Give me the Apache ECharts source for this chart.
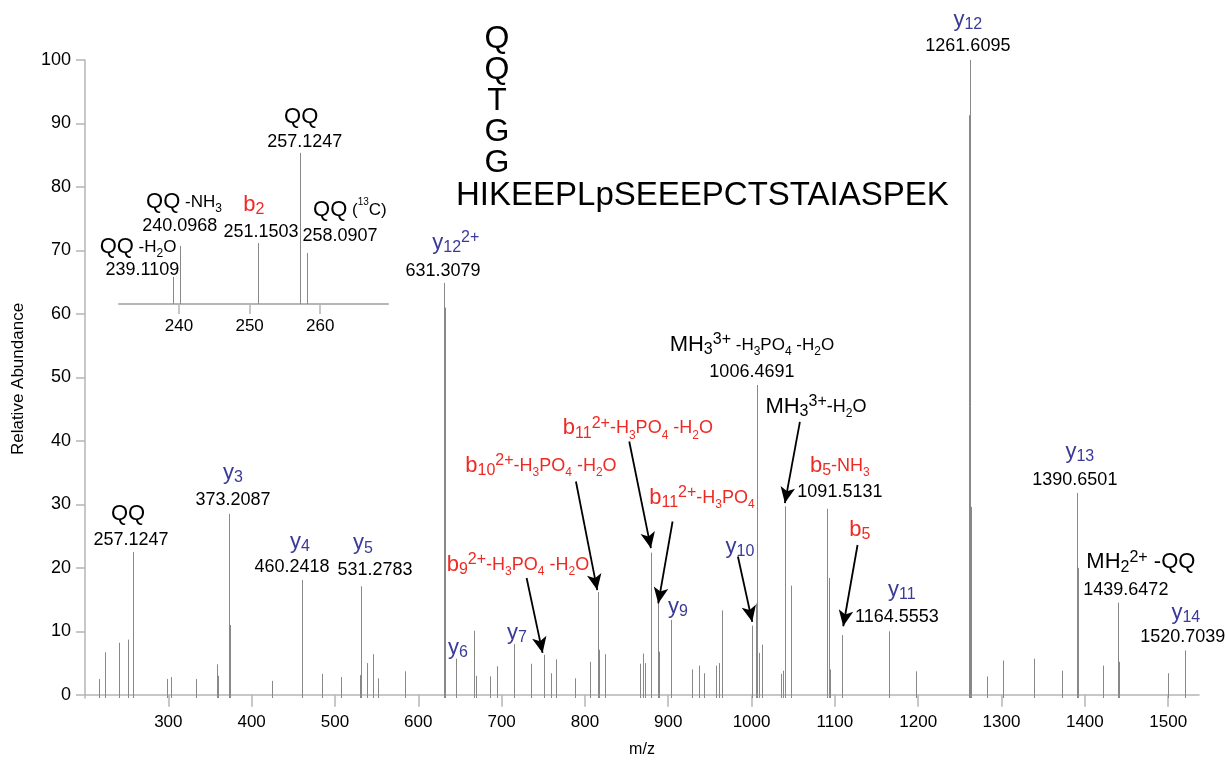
<!DOCTYPE html>
<html>
<head>
<meta charset="utf-8">
<style>
  html, body { margin: 0; padding: 0; background: #fff; }
  #main { width: 1226px; height: 763px; }
</style>
<script src="https://cdn.jsdelivr.net/npm/echarts@6/dist/echarts.min.js"></script>
</head>
<body>
<div id="main"></div>
<script>
// main spectrum: m/z and relative abundance of each centroid
const peakMz = [217.2, 223.6, 240.4, 251.2, 257.1, 258.1, 298.0, 302.8, 333.6, 358.8, 359.8,
  373.2, 374.2, 424.8, 460.2, 484.8, 506.8, 530.0, 531.3, 538.8, 546.0, 551.2, 584.0,
  631.3, 632.3, 644.8, 667.2, 668.8, 686.0, 694.0, 715.2, 735.6, 750.4, 758.8, 765.2,
  788.4, 806.0, 815.2, 816.8, 824.0, 866.0, 870.0, 872.0, 879.6, 887.2, 888.6, 902.8,
  928.0, 937.2, 942.8, 956.8, 960.8, 964.4, 1000.8, 1004.8, 1006.5, 1009.2, 1012.8,
  1034.8, 1037.2, 1039.6, 1046.8, 1091.0, 1092.8, 1094.0, 1108.0, 1164.6, 1197.2,
  1261.1, 1261.6, 1262.3, 1262.8, 1282.8, 1302.0, 1339.2, 1372.0, 1390.7, 1391.5,
  1422.0, 1439.6, 1441.0, 1500.0, 1520.7];
const peakInt = [2.5, 6.7, 8.2, 8.7, 22.5, 7.0, 2.5, 2.8, 2.5, 4.8, 3.0,
  28.5, 11.0, 2.2, 18.1, 3.3, 2.8, 3.1, 17.1, 5.0, 6.4, 2.6, 3.7,
  64.9, 61.0, 5.7, 10.1, 3.0, 2.9, 4.5, 8.0, 4.9, 6.3, 3.4, 5.6,
  2.6, 5.2, 16.2, 7.1, 6.4, 4.9, 6.5, 5.0, 22.4, 14.7, 6.8, 11.8,
  4.0, 4.6, 3.4, 4.6, 5.0, 13.3, 10.9, 14.4, 48.8, 6.6, 7.9,
  3.3, 3.8, 29.7, 17.2, 29.3, 18.4, 4.0, 9.4, 10.0, 3.7,
  91.3, 100, 72.8, 29.6, 2.9, 5.4, 5.7, 3.8, 31.8, 20.0,
  4.6, 14.5, 5.2, 3.4, 7.0];

// inset: zoom on the QQ region
const insetMz = [239.1, 240.1, 251.2, 257.1, 258.1];
const insetInt = [16.9, 36.3, 38.1, 94.4, 31.9];

const xTicks = [300, 400, 500, 600, 700, 800, 900, 1000, 1100, 1200, 1300, 1400, 1500];
const yTicks = [0, 10, 20, 30, 40, 50, 60, 70, 80, 90, 100];
const insetTicks = [240, 250, 260];

const Y_MIN = -0.5;
const FONT = '"Liberation Sans", Arial, sans-serif';
const AXIS_COLOR = '#b5b5b5';

// rich text styles: colour letter + size letter
const COLORS = { k: '#000000', r: '#ee2a24', u: '#3a3a98' };
const SIZES = {
  L: { fontSize: 22 },
  M: { fontSize: 18 },
  m: { fontSize: 17 },
  N: { fontSize: 18 },
  S: { fontSize: 16, verticalAlign: 'bottom', lineHeight: 16 },
  s: { fontSize: 12, verticalAlign: 'bottom', lineHeight: 14 },
  P: { fontSize: 16, verticalAlign: 'top', lineHeight: 16 },
  p: { fontSize: 10, verticalAlign: 'top', lineHeight: 16 }
};
const rich = {};
Object.keys(COLORS).forEach(c => {
  Object.keys(SIZES).forEach(s => {
    rich[c + s] = Object.assign({ color: COLORS[c], fontFamily: FONT, lineHeight: 26 }, SIZES[s]);
  });
});
const t = (cls, txt) => '{' + cls + '|' + txt + '}';
const num = v => t('kN', v);
const yIon = (n, sup) => t('uL', 'y') + t('uS', n) + (sup ? t('uP', sup) : '');
const bIon = (n, sup) => t('rL', 'b') + t('rS', n) + (sup ? t('rP', sup) : '');
const lossRed = t('rM', '-H') + t('rs', '3') + t('rM', 'PO') + t('rs', '4');
const waterRed = t('rM', ' -H') + t('rs', '2') + t('rM', 'O');

// annotation text centres, in data units of the main axes
const mainNotes = [
  [251.6, 28.5, t('kL', 'QQ')], [255.2, 24.4, num('257.1247')],
  [377.6, 35.0, yIon('3')], [377.6, 30.7, num('373.2087')],
  [458.0, 24.1, yIon('4')], [448.4, 20.2, num('460.2418')],
  [533.6, 23.9, yIon('5')], [548.0, 19.7, num('531.2783')],
  [645.0, 71.2, yIon('12', '2+')], [629.6, 66.8, num('631.3079')],
  [1000.4, 55.1, t('kL', 'MH') + t('kS', '3') + t('kP', '3+') + t('km', ' -H') + t('ks', '3') +
    t('km', 'PO') + t('ks', '4') + t('km', ' -H') + t('ks', '2') + t('km', 'O')],
  [1000.4, 50.9, num('1006.4691')],
  [1077.2, 45.4, t('kL', 'MH') + t('kS', '3') + t('kP', '3+') + t('kM', '-H') + t('ks', '2') + t('kM', 'O')],
  [1106.0, 36.1, bIon('5') + t('rM', '-NH') + t('rs', '3')], [1106.0, 32.0, num('1091.5131')],
  [1130.0, 26.0, bIon('5')],
  [1180.4, 16.5, yIon('11')], [1174.4, 12.3, num('1164.5553')],
  [1259.6, 106.3, yIon('12')], [1259.6, 102.2, num('1261.6095')],
  [1394.0, 38.3, yIon('13')], [1388.0, 33.9, num('1390.6501')],
  [1467.2, 20.9, t('kL', 'MH') + t('kS', '2') + t('kP', '2+') + t('kL', ' -QQ')],
  [1449.2, 16.5, num('1439.6472')],
  [1521.2, 12.9, yIon('14')], [1517.6, 9.1, num('1520.7039')],
  [986.0, 23.3, yIon('10')], [911.6, 13.9, yIon('9')],
  [718.4, 9.8, yIon('7')], [647.6, 7.4, yIon('6')],
  [719.6, 20.5, bIon('9', '2+') + lossRed + waterRed],
  [747.2, 36.1, bIon('10', '2+') + lossRed + waterRed],
  [863.6, 42.0, bIon('11', '2+') + lossRed + waterRed],
  [940.4, 31.0, bIon('11', '2+') + lossRed]
];

// arrows: from [mz, y] to [mz, y]
const arrows = [
  [730.0, 18.4, 749.2, 6.6],
  [789.2, 33.6, 814.8, 16.5],
  [853.2, 39.9, 879.2, 23.1],
  [905.2, 27.3, 888.0, 14.4],
  [983.6, 21.8, 1000.8, 11.5],
  [1058.0, 43.0, 1040.0, 30.2],
  [1127.2, 23.6, 1110.0, 10.8]
];

const insetNotes = [
  [234.2, 35.6, t('kL', 'QQ') + t('km', ' -H') + t('ks', '2') + t('km', 'O')],
  [234.8, 21.3, num('239.1109')],
  [240.7, 63.8, t('kL', 'QQ') + t('km', ' -NH') + t('ks', '3')],
  [240.1, 48.8, num('240.0968')],
  [250.6, 61.9, bIon('2')],
  [251.6, 45.0, num('251.1503')],
  [257.3, 116.9, t('kL', 'QQ')],
  [257.8, 101.3, num('257.1247')],
  [264.2, 58.8, t('kL', 'QQ') + t('km', ' (') + t('kp', '13') + t('km', 'C)')],
  [262.8, 42.5, num('258.0907')]
];

function peakSeries(idx, mz, ints, base) {
  return {
    type: 'custom',
    xAxisIndex: idx,
    yAxisIndex: idx,
    silent: true,
    encode: { x: 0, y: 1 },
    data: mz.map((m, i) => [m, ints[i]]),
    renderItem: function (params, api) {
      const p0 = api.coord([api.value(0), base]);
      const p1 = api.coord([api.value(0), api.value(1)]);
      const x = Math.round(p0[0]) + 0.5;
      return {
        type: 'line',
        shape: { x1: x, y1: p0[1], x2: x, y2: p1[1] },
        style: { stroke: '#888888', lineWidth: 1 }
      };
    }
  };
}

function noteSeries(idx, notes) {
  return {
    type: 'scatter',
    xAxisIndex: idx,
    yAxisIndex: idx,
    symbolSize: 1,
    itemStyle: { color: 'transparent', opacity: 1 },
    clip: false,
    silent: true,
    z: 5,
    label: {
      show: true,
      position: 'inside',
      fontFamily: FONT,
      textBorderWidth: 0,
      formatter: p => p.data.text,
      rich: rich
    },
    data: notes.map(n => ({ value: [n[0], n[1]], text: n[2] }))
  };
}

const axisText = { color: '#000', fontFamily: FONT };
const plain = v => String(v);

const chart = echarts.init(document.getElementById('main'));
const annot = noteSeries(0, mainNotes);
annot.markLine = {
  silent: true,
  animation: false,
  symbol: ['none', 'arrow'],
  symbolSize: [11, 16],
  label: { show: false },
  lineStyle: { color: '#000', width: 1.8, type: 'solid', opacity: 1 },
  emphasis: { disabled: true },
  data: arrows.map(a => [{ coord: [a[0], a[1]] }, { coord: [a[2], a[3]] }])
};

chart.setOption({
  animation: false,
  backgroundColor: '#fff',
  grid: [
    { left: 85, right: 27, top: 60, bottom: 65, outerBoundsMode: 'none', containLabel: false },
    { left: 119, right: 838, top: 144, bottom: 459, outerBoundsMode: 'none', containLabel: false }
  ],
  xAxis: [
    {
      type: 'value', gridIndex: 0, min: 200, max: 1537,
      name: 'm/z', nameLocation: 'middle', nameGap: 44,
      nameTextStyle: Object.assign({ fontSize: 16 }, axisText),
      axisLine: { lineStyle: { color: AXIS_COLOR, width: 1.5 } },
      axisTick: { show: true, length: 12, customValues: xTicks, lineStyle: { color: AXIS_COLOR, width: 1.5 } },
      axisLabel: Object.assign({ customValues: xTicks, margin: 16, fontSize: 17, formatter: plain }, axisText),
      splitLine: { show: false }
    },
    {
      type: 'value', gridIndex: 1, min: 231.5, max: 269.6,
      axisLine: { lineStyle: { color: AXIS_COLOR, width: 2 } },
      axisTick: { show: true, length: 10, customValues: insetTicks, lineStyle: { color: AXIS_COLOR, width: 1.5 } },
      axisLabel: Object.assign({ customValues: insetTicks, margin: 14, fontSize: 17, formatter: plain }, axisText),
      splitLine: { show: false }
    }
  ],
  yAxis: [
    {
      type: 'value', gridIndex: 0, min: Y_MIN, max: 100,
      name: 'Relative Abundance', nameLocation: 'middle', nameGap: 58, nameRotate: 90,
      nameTextStyle: Object.assign({ fontSize: 17 }, axisText),
      axisLine: { show: true, lineStyle: { color: AXIS_COLOR, width: 1.5 } },
      axisTick: { show: true, length: 9, customValues: yTicks, lineStyle: { color: AXIS_COLOR, width: 1.5 } },
      axisLabel: Object.assign({ customValues: yTicks, margin: 14, fontSize: 18 }, axisText),
      splitLine: { show: false }
    },
    { type: 'value', gridIndex: 1, min: 0, max: 100, show: false }
  ],
  graphic: [
    {
      type: 'text', x: 497, y: 101, silent: true,
      style: { text: 'Q\nQ\nT\nG\nG', fontSize: 32, fontFamily: FONT, lineHeight: 31,
        align: 'center', verticalAlign: 'middle', fill: '#000' }
    },
    {
      type: 'text', x: 456, y: 196, silent: true,
      style: { text: 'HIKEEPLpSEEEPCTSTAIASPEK', fontSize: 33, fontFamily: FONT,
        align: 'left', verticalAlign: 'middle', fill: '#000' }
    }
  ],
  series: [
    peakSeries(0, peakMz, peakInt, Y_MIN),
    peakSeries(1, insetMz, insetInt, 0),
    annot,
    noteSeries(1, insetNotes)
  ]
});
</script>
</body>
</html>
